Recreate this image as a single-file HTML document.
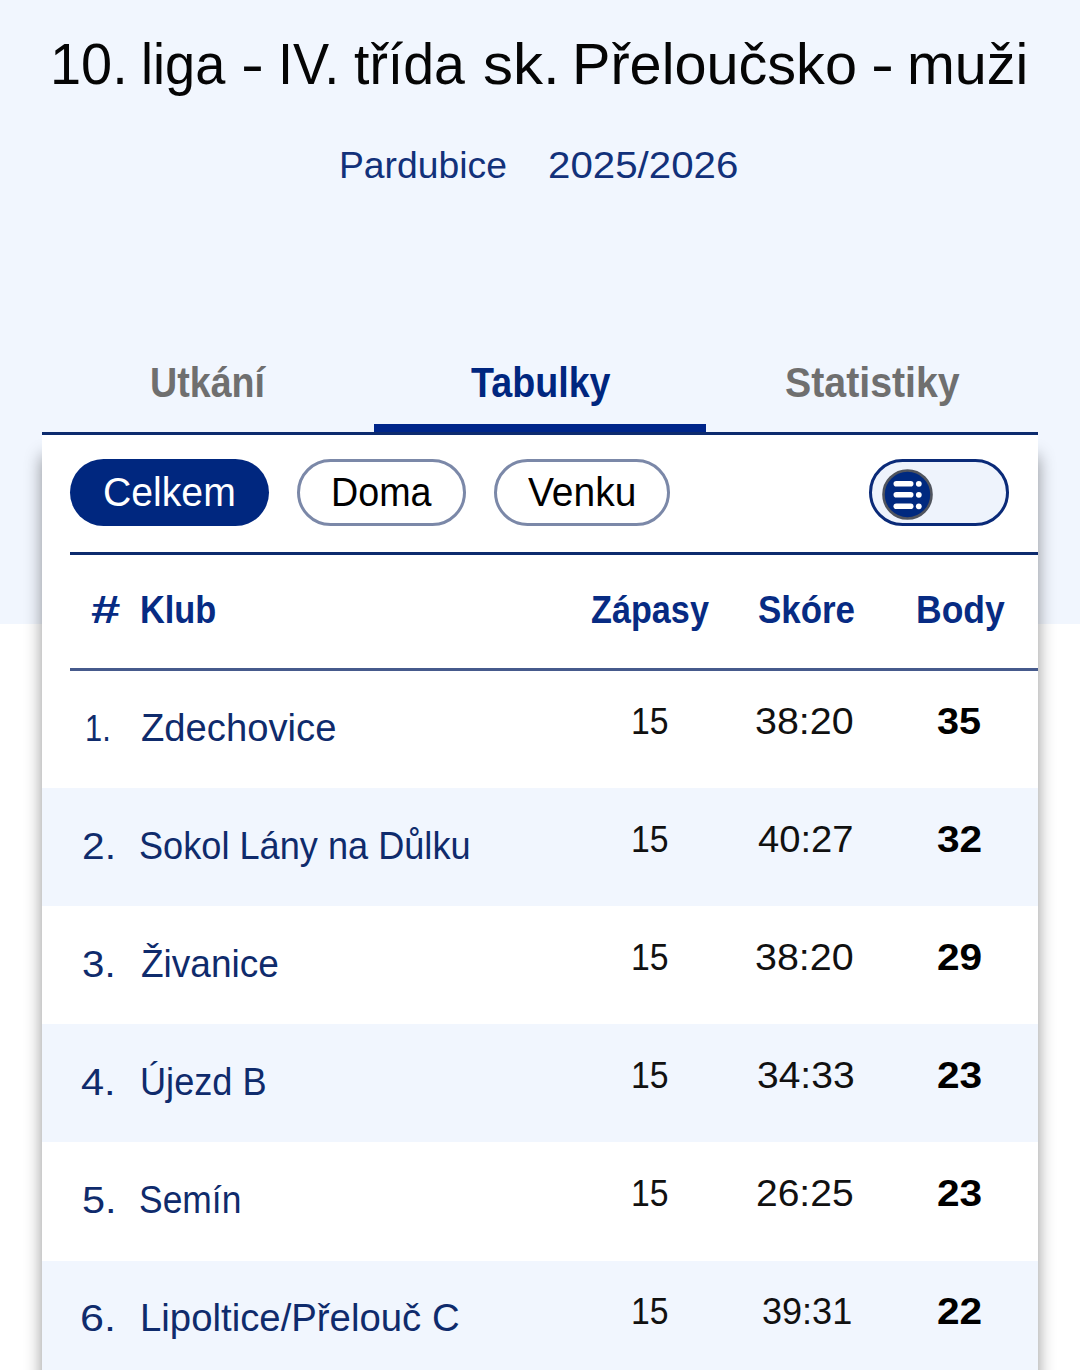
<!DOCTYPE html>
<html><head><meta charset="utf-8">
<style>
html,body{margin:0;padding:0;}
body{width:1080px;height:1370px;overflow:hidden;position:relative;background:#ffffff;font-family:"Liberation Sans",sans-serif;}
.t{position:absolute;white-space:nowrap;transform-origin:0 0;}
#topbg{position:absolute;left:0;top:0;width:1080px;height:623.5px;background:#f1f6fe;}
#card{position:absolute;left:42px;top:432px;width:996px;height:1000px;background:#fff;box-shadow:0 24px 16px rgba(0,0,0,0.42);}
#tabbar{position:absolute;left:374px;top:424px;width:332px;height:8px;background:#00268a;}
#topline{position:absolute;left:42px;top:432px;width:996px;height:3px;background:#0d2b6e;}
.pill{position:absolute;top:459.3px;height:66.8px;border-radius:34px;box-sizing:border-box;}
#fline{position:absolute;left:70px;top:552px;width:968px;height:3px;background:#0d2b6e;}
#hline{position:absolute;left:70px;top:668.3px;width:968px;height:2.4px;background:#465a8c;}
.rowbg{position:absolute;left:42px;width:996px;background:#f1f6fe;}
</style></head>
<body>
<div id="topbg"></div>
<div id="card"></div>
<div id="tabbar"></div>
<div id="topline"></div>

<div class="pill" style="left:70px;width:199px;background:#00277f;"></div>
<div class="pill" style="left:297px;width:169px;border:3px solid #7b88a8;background:#fff;"></div>
<div class="pill" style="left:494px;width:176px;border:3px solid #7b88a8;background:#fff;"></div>
<div class="pill" style="left:869px;width:140px;border:3px solid #0a2a78;background:#eef3fc;"></div>
<svg style="position:absolute;left:880px;top:466.5px;" width="56" height="56" viewBox="0 0 56 56">
  <circle cx="27.5" cy="27.5" r="24" fill="#00297f" stroke="#50545e" stroke-width="2.6"/>
  <g fill="#fff">
    <rect x="13.5" y="14" width="20" height="5.6" rx="2.8"/>
    <rect x="13.5" y="25" width="20" height="5.6" rx="2.8"/>
    <rect x="13.5" y="36.5" width="20" height="5.6" rx="2.8"/>
    <circle cx="38.8" cy="16.8" r="2.9"/>
    <circle cx="38.8" cy="27.8" r="2.9"/>
    <circle cx="38.8" cy="39.3" r="2.9"/>
  </g>
</svg>
<div id="fline"></div>
<div id="hline"></div>
<div class="rowbg" style="top:788.10px;height:118.1px;"></div>
<div class="rowbg" style="top:1024.30px;height:118.1px;"></div>
<div class="rowbg" style="top:1260.50px;height:118.1px;"></div>
<div class="t" style="left:50.48px;top:36.00px;font-size:57px;line-height:57px;font-weight:normal;color:#050505;transform:scaleX(0.9800);">10.</div>
<div class="t" style="left:140.90px;top:36.00px;font-size:57px;line-height:57px;font-weight:normal;color:#050505;transform:scaleX(0.9494);">liga</div>
<div class="t" style="left:240.98px;top:36.00px;font-size:57px;line-height:57px;font-weight:normal;color:#050505;transform:scaleX(1.2077);">-</div>
<div class="t" style="left:278.35px;top:36.00px;font-size:57px;line-height:57px;font-weight:normal;color:#050505;transform:scaleX(0.9500);">IV.</div>
<div class="t" style="left:353.73px;top:36.00px;font-size:57px;line-height:57px;font-weight:normal;color:#050505;transform:scaleX(0.9726);">třída</div>
<div class="t" style="left:482.69px;top:36.00px;font-size:57px;line-height:57px;font-weight:normal;color:#050505;transform:scaleX(1.0530);">sk.</div>
<div class="t" style="left:571.95px;top:36.00px;font-size:57px;line-height:57px;font-weight:normal;color:#050505;transform:scaleX(1.0105);">Přeloučsko</div>
<div class="t" style="left:870.98px;top:36.00px;font-size:57px;line-height:57px;font-weight:normal;color:#050505;transform:scaleX(1.2077);">-</div>
<div class="t" style="left:907.17px;top:36.00px;font-size:57px;line-height:57px;font-weight:normal;color:#050505;transform:scaleX(1.0080);">muži</div>
<div class="t" style="left:338.92px;top:146.60px;font-size:37.5px;line-height:37.5px;font-weight:normal;color:#12317a;transform:scaleX(0.9945);">Pardubice</div>
<div class="t" style="left:547.85px;top:146.90px;font-size:37.5px;line-height:37.5px;font-weight:normal;color:#12317a;transform:scaleX(1.0736);">2025/2026</div>
<div class="t" style="left:149.57px;top:361.00px;font-size:43px;line-height:43px;font-weight:bold;color:#6f6f6f;transform:scaleX(0.8754);">Utkání</div>
<div class="t" style="left:471.42px;top:361.00px;font-size:43px;line-height:43px;font-weight:bold;color:#00267f;transform:scaleX(0.8759);">Tabulky</div>
<div class="t" style="left:785.09px;top:361.00px;font-size:43px;line-height:43px;font-weight:bold;color:#6f6f6f;transform:scaleX(0.9137);">Statistiky</div>
<div class="t" style="left:102.79px;top:471.60px;font-size:41px;line-height:41px;font-weight:normal;color:#ffffff;transform:scaleX(0.9552);">Celkem</div>
<div class="t" style="left:330.54px;top:471.60px;font-size:41px;line-height:41px;font-weight:normal;color:#000000;transform:scaleX(0.9189);">Doma</div>
<div class="t" style="left:528.30px;top:471.60px;font-size:41px;line-height:41px;font-weight:normal;color:#000000;transform:scaleX(0.9505);">Venku</div>
<div class="t" style="left:90.64px;top:589.80px;font-size:39px;line-height:39px;font-weight:bold;color:#072b83;transform:scaleX(1.3550);">#</div>
<div class="t" style="left:140.16px;top:589.80px;font-size:39px;line-height:39px;font-weight:bold;color:#072b83;transform:scaleX(0.8805);">Klub</div>
<div class="t" style="left:591.32px;top:589.80px;font-size:39px;line-height:39px;font-weight:bold;color:#072b83;transform:scaleX(0.8774);">Zápasy</div>
<div class="t" style="left:757.80px;top:589.80px;font-size:39px;line-height:39px;font-weight:bold;color:#072b83;transform:scaleX(0.8953);">Skóre</div>
<div class="t" style="left:915.67px;top:589.80px;font-size:39px;line-height:39px;font-weight:bold;color:#072b83;transform:scaleX(0.9106);">Body</div>
<div class="t" style="left:85.10px;top:709.60px;font-size:37px;line-height:37px;font-weight:normal;color:#0f2b6c;transform:scaleX(0.8333);">1.</div>
<div class="t" style="left:141.02px;top:707.60px;font-size:39px;line-height:39px;font-weight:normal;color:#0f2b6c;transform:scaleX(0.9797);">Zdechovice</div>
<div class="t" style="left:631.12px;top:703.60px;font-size:36.5px;line-height:36.5px;font-weight:normal;color:#111111;transform:scaleX(0.9250);">15</div>
<div class="t" style="left:755.04px;top:703.60px;font-size:36.5px;line-height:36.5px;font-weight:normal;color:#111111;transform:scaleX(1.0795);">38:20</div>
<div class="t" style="left:937.32px;top:703.60px;font-size:36.5px;line-height:36.5px;font-weight:bold;color:#000000;transform:scaleX(1.0846);">35</div>
<div class="t" style="left:82.00px;top:827.70px;font-size:37px;line-height:37px;font-weight:normal;color:#0f2b6c;transform:scaleX(1.1000);">2.</div>
<div class="t" style="left:139.45px;top:825.70px;font-size:39px;line-height:39px;font-weight:normal;color:#0f2b6c;transform:scaleX(0.9269);">Sokol Lány na Důlku</div>
<div class="t" style="left:631.12px;top:821.70px;font-size:36.5px;line-height:36.5px;font-weight:normal;color:#111111;transform:scaleX(0.9250);">15</div>
<div class="t" style="left:757.96px;top:821.70px;font-size:36.5px;line-height:36.5px;font-weight:normal;color:#111111;transform:scaleX(1.0449);">40:27</div>
<div class="t" style="left:937.29px;top:821.70px;font-size:36.5px;line-height:36.5px;font-weight:bold;color:#000000;transform:scaleX(1.1132);">32</div>
<div class="t" style="left:81.72px;top:945.80px;font-size:37px;line-height:37px;font-weight:normal;color:#0f2b6c;transform:scaleX(1.0880);">3.</div>
<div class="t" style="left:140.85px;top:943.80px;font-size:39px;line-height:39px;font-weight:normal;color:#0f2b6c;transform:scaleX(0.9497);">Živanice</div>
<div class="t" style="left:631.12px;top:939.80px;font-size:36.5px;line-height:36.5px;font-weight:normal;color:#111111;transform:scaleX(0.9250);">15</div>
<div class="t" style="left:755.04px;top:939.80px;font-size:36.5px;line-height:36.5px;font-weight:normal;color:#111111;transform:scaleX(1.0795);">38:20</div>
<div class="t" style="left:937.29px;top:939.80px;font-size:36.5px;line-height:36.5px;font-weight:bold;color:#000000;transform:scaleX(1.1132);">29</div>
<div class="t" style="left:80.78px;top:1063.90px;font-size:37px;line-height:37px;font-weight:normal;color:#0f2b6c;transform:scaleX(1.1231);">4.</div>
<div class="t" style="left:139.82px;top:1061.90px;font-size:39px;line-height:39px;font-weight:normal;color:#0f2b6c;transform:scaleX(0.9273);">Újezd B</div>
<div class="t" style="left:631.12px;top:1057.90px;font-size:36.5px;line-height:36.5px;font-weight:normal;color:#111111;transform:scaleX(0.9250);">15</div>
<div class="t" style="left:756.86px;top:1057.90px;font-size:36.5px;line-height:36.5px;font-weight:normal;color:#111111;transform:scaleX(1.0682);">34:33</div>
<div class="t" style="left:937.29px;top:1057.90px;font-size:36.5px;line-height:36.5px;font-weight:bold;color:#000000;transform:scaleX(1.1132);">23</div>
<div class="t" style="left:81.66px;top:1182.00px;font-size:37px;line-height:37px;font-weight:normal;color:#0f2b6c;transform:scaleX(1.1200);">5.</div>
<div class="t" style="left:139.48px;top:1180.00px;font-size:39px;line-height:39px;font-weight:normal;color:#0f2b6c;transform:scaleX(0.9083);">Semín</div>
<div class="t" style="left:631.12px;top:1176.00px;font-size:36.5px;line-height:36.5px;font-weight:normal;color:#111111;transform:scaleX(0.9250);">15</div>
<div class="t" style="left:755.86px;top:1176.00px;font-size:36.5px;line-height:36.5px;font-weight:normal;color:#111111;transform:scaleX(1.0682);">26:25</div>
<div class="t" style="left:937.29px;top:1176.00px;font-size:36.5px;line-height:36.5px;font-weight:bold;color:#000000;transform:scaleX(1.1132);">23</div>
<div class="t" style="left:80.47px;top:1300.10px;font-size:37px;line-height:37px;font-weight:normal;color:#0f2b6c;transform:scaleX(1.1640);">6.</div>
<div class="t" style="left:139.55px;top:1298.10px;font-size:39px;line-height:39px;font-weight:normal;color:#0f2b6c;transform:scaleX(0.9828);">Lipoltice/Přelouč C</div>
<div class="t" style="left:631.12px;top:1294.10px;font-size:36.5px;line-height:36.5px;font-weight:normal;color:#111111;transform:scaleX(0.9250);">15</div>
<div class="t" style="left:761.62px;top:1294.10px;font-size:36.5px;line-height:36.5px;font-weight:normal;color:#111111;transform:scaleX(0.9875);">39:31</div>
<div class="t" style="left:937.29px;top:1294.10px;font-size:36.5px;line-height:36.5px;font-weight:bold;color:#000000;transform:scaleX(1.1132);">22</div>
</body></html>
